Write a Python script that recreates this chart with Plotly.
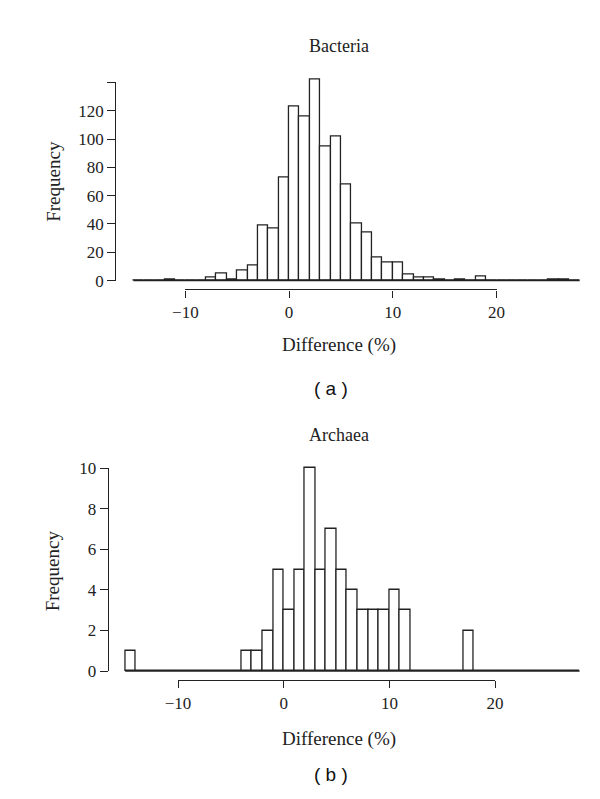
import plotly.graph_objects as go

# ---------------- data ----------------
bin_start = -15          # left edge of first bin (both panels), bin width 1
bin_width = 1
bacteria_counts = [0, 0, 0, 1, 0, 0, 0, 2, 5, 1, 7, 11, 39, 37, 73, 123, 116, 142,
                   95, 102, 68, 40, 34, 16, 13, 13, 4, 2, 2, 1, 0, 1, 0, 3, 0, 0,
                   0, 0, 0, 0, 1, 1, 0]
archaea_counts = [1, 0, 0, 0, 0, 0, 0, 0, 0, 0, 0, 1, 1, 2, 5, 3, 5, 10, 5, 7, 5,
                  4, 3, 3, 3, 4, 3, 0, 0, 0, 0, 0, 2, 0, 0, 0, 0, 0, 0, 0, 0, 0, 0]
x_ticks = [-10, 0, 10, 20]
bact_y_ticks = [0, 20, 40, 60, 80, 100, 120, 140]
bact_y_labels = ["0", "20", "40", "60", "80", "100", "120", ""]
arch_y_ticks = [0, 2, 4, 6, 8, 10]
titles = ["Bacteria", "Archaea"]
panel_labels = ["( a )", "( b )"]
x_title = "Difference (%)"
y_title = "Frequency"

W, H = 600, 799
INK = "#222222"
SERIF = "Liberation Serif, Times New Roman, serif"
SANS = "Liberation Sans, Arial, sans-serif"


def fx(p):
    return p / W


def fy(p):
    return (H - p) / H


fig = go.Figure()

panels = [
    dict(counts=bacteria_counts, X0=278.3, SX=10.77, Y0=270.0, SY=1.45, yax_px=98.0,
         xax_px=279.0, ymax=140, yticks=bact_y_ticks, ylabels=bact_y_labels,
         title_y=30, ytitle_y=168, xtitle_y=336, plab_y=381),
    dict(counts=archaea_counts, X0=272.7, SX=10.97, Y0=670.0, SY=20.8, yax_px=90.0,
         xax_px=679.5, ymax=10, yticks=arch_y_ticks, ylabels=[str(v) for v in arch_y_ticks],
         title_y=428, ytitle_y=567, xtitle_y=740, plab_y=776),
]

annotations = []
for i, p in enumerate(panels):
    counts = p["counts"]
    centers = [bin_start + bin_width * (k + 0.5) for k in range(len(counts))]
    edges_lo = bin_start
    edges_hi = bin_start + bin_width * len(counts)
    n = 2 * i + 1
    xa_b, ya_b = f"x{n}", f"y{n}"       # bars (hidden axes)
    xa_a, ya_a = f"x{n+1}", f"y{n+1}"   # visible R-style axes

    fig.add_trace(go.Bar(x=centers, y=counts, width=bin_width, xaxis=xa_b, yaxis=ya_b,
                         marker=dict(color="white", line=dict(color=INK, width=1.3)),
                         hoverinfo="skip", showlegend=False))
    fig.add_trace(go.Scatter(x=[edges_lo, edges_hi], y=[0, 0], mode="lines",
                             line=dict(color=INK, width=1.5), xaxis=xa_b, yaxis=ya_b,
                             hoverinfo="skip", showlegend=False, cliponaxis=False))
    fig.add_trace(go.Scatter(x=[x_ticks[0], x_ticks[-1]], y=[0, p["ymax"]], mode="markers",
                             marker=dict(opacity=0), xaxis=xa_a, yaxis=ya_a,
                             hoverinfo="skip", showlegend=False))

    X0, SX, Y0, SY = p["X0"], p["SX"], p["Y0"], p["SY"]
    xr = [-16, 29]
    yr = [-0.02 * p["ymax"], 1.045 * p["ymax"]]
    hidden = dict(visible=False, fixedrange=True)
    fig.layout[f"xaxis{n}"] = dict(hidden, range=xr, anchor=ya_b,
                                   domain=[fx(X0 + xr[0] * SX), fx(X0 + xr[1] * SX)])
    fig.layout[f"yaxis{n}"] = dict(hidden, range=yr, anchor=xa_b,
                                   domain=[fy(Y0 - yr[0] * SY), fy(Y0 - yr[1] * SY)])

    tickfont = dict(family=SERIF, size=17, color=INK)
    fig.layout[f"xaxis{n+1}"] = dict(
        range=[x_ticks[0], x_ticks[-1]], anchor="free", position=fy(p["xax_px"]),
        domain=[fx(X0 + x_ticks[0] * SX), fx(X0 + x_ticks[-1] * SX)],
        showline=True, linecolor=INK, linewidth=1.3, ticks="outside", ticklen=7,
        tickwidth=1.3, tickcolor=INK, tickvals=x_ticks, showgrid=False, zeroline=False,
        tickfont=tickfont, fixedrange=True)
    fig.layout[f"yaxis{n+1}"] = dict(
        range=[0, p["ymax"]], anchor="free", position=fx(p["yax_px"]),
        domain=[fy(Y0), fy(Y0 - p["ymax"] * SY)],
        showline=True, linecolor=INK, linewidth=1.3, ticks="outside", ticklen=8,
        tickwidth=1.3, tickcolor=INK, tickvals=p["yticks"], ticktext=p["ylabels"],
        showgrid=False, zeroline=False, tickfont=tickfont, fixedrange=True)

    common = dict(xref="paper", yref="paper", showarrow=False,
                  xanchor="center", yanchor="middle")
    annotations += [
        dict(common, text=titles[i], x=fx(330), y=fy(p["title_y"]),
             font=dict(family=SERIF, size=18, color=INK)),
        dict(common, text=y_title, x=fx(33), y=fy(p["ytitle_y"]), textangle=-90,
             font=dict(family=SERIF, size=19, color=INK)),
        dict(common, text=x_title, x=fx(330), y=fy(p["xtitle_y"]),
             font=dict(family=SERIF, size=19, color=INK)),
        dict(common, text=panel_labels[i], x=fx(322), y=fy(p["plab_y"]),
             font=dict(family=SANS, size=19, color="#111111")),
    ]

fig.update_layout(width=W, height=H, margin=dict(l=0, r=0, t=0, b=0),
                  paper_bgcolor="white", plot_bgcolor="rgba(0,0,0,0)",
                  showlegend=False, bargap=0, annotations=annotations)

fig.write_html("out.html", config={"displayModeBar": False})
